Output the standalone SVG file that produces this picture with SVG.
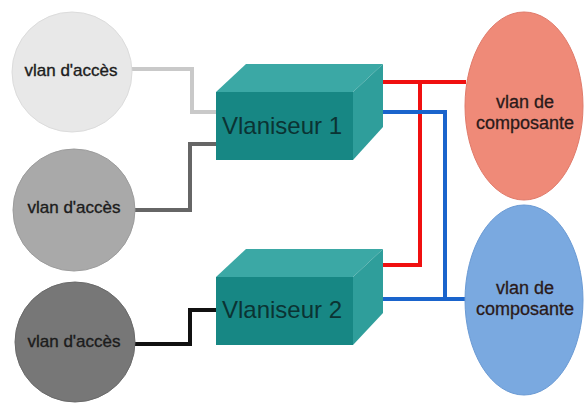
<svg xmlns="http://www.w3.org/2000/svg" width="584" height="403" viewBox="0 0 584 403">
<style>
.lbl{font-family:"Liberation Sans",Arial,sans-serif;font-size:17px;fill:#1c1c1c;stroke:#1c1c1c;stroke-width:0.35;text-anchor:middle}
.elbl{font-family:"Liberation Sans",Arial,sans-serif;font-size:18px;fill:#2a1a1a;stroke:#2a1a1a;stroke-width:0.3;text-anchor:middle}
.box{font-family:"Liberation Sans",Arial,sans-serif;font-size:24px;fill:#0b3333}
.top{fill:#3ba8a5}
.side{fill:#2f9e9b}
.front{fill:#178784}
.wire{fill:none;stroke-width:4}
</style>
<rect width="584" height="403" fill="#ffffff"/>
<g id="connectors">
<polyline class="wire" stroke="#c9c9c9" points="132,69 192,69 192,112 216,112"/>
<polyline class="wire" stroke="#666666" points="216,144 190,144 190,210 135,210"/>
<polyline class="wire" stroke="#111111" points="135,344 190,344 190,310 216,310"/>
<polyline class="wire" stroke="#f01010" points="383,82 466,82"/>
<polyline class="wire" stroke="#f01010" points="420,82 420,265 383,265"/>
<polyline class="wire" stroke="#1a64cc" points="383,112 445,112 445,299"/>
<polyline class="wire" stroke="#1a64cc" points="383,299 466,299"/>
</g>
<g id="access1">
<circle cx="72" cy="72" r="60" fill="#e8e8e8" stroke="#dcdcdc"/>
<text class="lbl" x="71" y="76">vlan d'accès</text>
</g>
<g id="access2">
<circle cx="74" cy="210" r="61" fill="#a9a9a9" stroke="#9c9c9c"/>
<text class="lbl" x="74" y="213">vlan d'accès</text>
</g>
<g id="access3">
<circle cx="75" cy="342" r="60" fill="#777777" stroke="#6a6a6a"/>
<text class="lbl" x="74" y="347">vlan d'accès</text>
</g>
<g id="vlaniseur1">
<polygon class="top" points="216,92 246,64 383,64 353,92"/>
<polygon class="side" points="353,92 383,64 383,127 353,160"/>
<rect class="front" x="216" y="92" width="137" height="68"/>
<text class="box" x="222" y="134">Vlaniseur 1</text>
</g>
<g id="vlaniseur2">
<polygon class="top" points="216,277 246,249 383,249 353,277"/>
<polygon class="side" points="353,277 383,249 383,313 353,345"/>
<rect class="front" x="216" y="277" width="137" height="68"/>
<text class="box" x="222" y="318">Vlaniseur 2</text>
</g>
<g id="composante1">
<ellipse cx="524" cy="106" rx="59" ry="94" fill="#ef8a78" stroke="#e07a6a"/>
<text class="elbl" x="525" y="108">vlan de</text>
<text class="elbl" x="525" y="129">composante</text>
</g>
<g id="composante2">
<ellipse cx="524" cy="300" rx="59" ry="95" fill="#7aa9e0" stroke="#6a9ad4"/>
<text class="elbl" x="525" y="294">vlan de</text>
<text class="elbl" x="525" y="315">composante</text>
</g>
</svg>
